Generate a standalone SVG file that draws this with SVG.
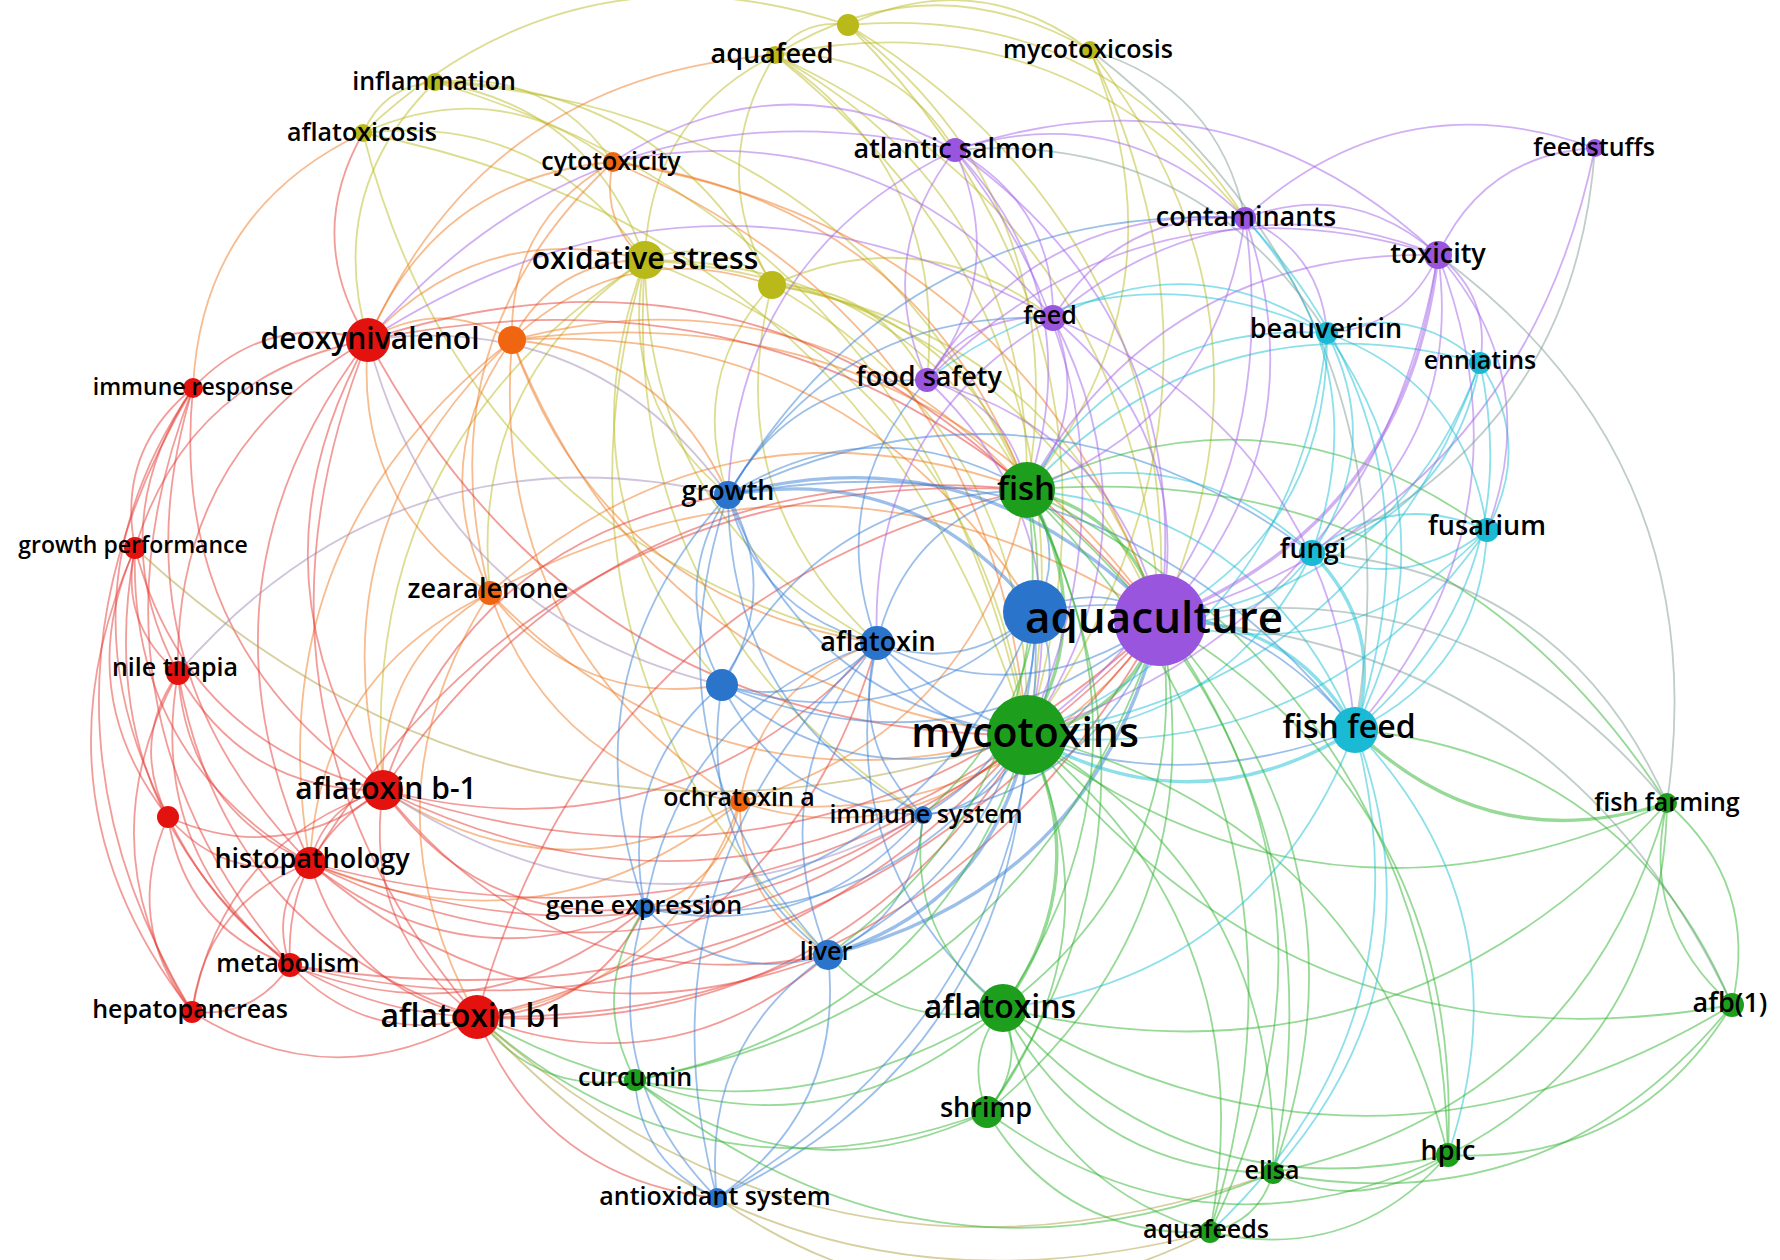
<svg xmlns="http://www.w3.org/2000/svg" width="1780" height="1260" viewBox="0 0 1780 1260">
<style>
#edges path{fill:none;stroke-width:1.8;stroke-opacity:.5;vector-effect:non-scaling-stroke}
#edges path.w{stroke-width:3.4}
.r{stroke:#e63a34}.g{stroke:#2fb42f}.b{stroke:#3a7fd6}.p{stroke:#a262e8}.c{stroke:#1cbfd6}.y{stroke:#bcbc26}.o{stroke:#f07a20}.k{stroke:#7f9c98}.l{stroke:#b0a040}.m{stroke:#a08ab8}
.node circle{stroke:none}
.cr{fill:#e3120f}.cg{fill:#1d9e1d}.cb{fill:#2a74cc}.cp{fill:#9a55de}.cc{fill:#1ab9d4}.cy{fill:#b9b91a}.co{fill:#f0650f}
text{font-family:"Open Sans","Noto Sans","DejaVu Sans",sans-serif;font-weight:600;fill:#000;text-anchor:middle}
.s24{font-size:23px}.s26{font-size:25px}.s28{font-size:27px}.s31{font-size:30px}.s33{font-size:32px}.s34{font-size:33px}.s42{font-size:41px}.s45{font-size:44px}
</style>
<rect width="1780" height="1260" fill="#fff"/>
<g id="edges">
<path class="y" transform="matrix(-73 30 -30 -73 848 25)" d="M0 0Q.5 .3 1 0"/>
<path class="y" transform="matrix(-242 -25 25 -242 1090 50)" d="M0 0Q.5 .3 1 0"/>
<path class="y" transform="matrix(-315 5 -5 -315 1090 50)" d="M0 0Q.5 .3 1 0"/>
<path class="y" transform="matrix(-485 108 -108 -485 848 25)" d="M0 0Q.5 .3 1 0"/>
<path class="y" transform="matrix(-72 51 -51 -72 435 82)" d="M0 0Q.5 .3 1 0"/>
<path class="y" transform="matrix(-210 -178 178 -210 645 260)" d="M0 0Q.5 .3 1 0"/>
<path class="y" transform="matrix(-178 -80 80 -178 613 162)" d="M0 0Q.5 .3 1 0"/>
<path class="y" transform="matrix(-250 -29 29 -250 613 162)" d="M0 0Q.5 .3 1 0"/>
<path class="y" transform="matrix(-282 -127 127 -282 645 260)" d="M0 0Q.5 .3 1 0"/>
<path class="y" transform="matrix(-130 205 -205 -130 775 55)" d="M0 0Q.5 .3 1 0"/>
<path class="y" transform="matrix(-127 -25 25 -127 772 285)" d="M0 0Q.5 .3 1 0"/>
<path class="y" transform="matrix(-3 230 -230 -3 775 55)" d="M0 0Q.5 .3 1 0"/>
<path class="y" transform="matrix(-252 -435 435 -252 1027 490)" d="M0 0Q.5 .3 1 0"/>
<path class="y" transform="matrix(-252 -680 680 -252 1027 735)" d="M0 0Q.5 .3 1 0"/>
<path class="y" transform="matrix(-385 -565 565 -385 1160 620)" d="M0 0Q.5 .3 1 0"/>
<path class="y" transform="matrix(-152 -325 325 -152 927 380)" d="M0 0Q.5 .3 1 0"/>
<path class="y" transform="matrix(-470 -163 163 -470 1245 218)" d="M0 0Q.5 .3 1 0"/>
<path class="y" transform="matrix(-179 -465 465 -179 1027 490)" d="M0 0Q.5 .3 1 0"/>
<path class="y" transform="matrix(-179 -710 710 -179 1027 735)" d="M0 0Q.5 .3 1 0"/>
<path class="y" transform="matrix(-312 -595 595 -312 1160 620)" d="M0 0Q.5 .3 1 0"/>
<path class="y" transform="matrix(63 -685 685 63 1027 735)" d="M0 0Q.5 .3 1 0"/>
<path class="y" transform="matrix(-70 -570 570 -70 1160 620)" d="M0 0Q.5 .3 1 0"/>
<path class="k" transform="matrix(-155 -168 168 -155 1245 218)" d="M0 0Q.5 .3 1 0"/>
<path class="y" transform="matrix(63 -440 440 63 1027 490)" d="M0 0Q.5 .3 1 0"/>
<path class="k" transform="matrix(-265 -680 680 -265 1355 730)" d="M0 0Q.5 .3 1 0"/>
<path class="y" transform="matrix(-592 -653 653 -592 1027 735)" d="M0 0Q.5 .3 1 0"/>
<path class="y" transform="matrix(-592 -408 408 -592 1027 490)" d="M0 0Q.5 .3 1 0"/>
<path class="y" transform="matrix(-337 -203 203 -337 772 285)" d="M0 0Q.5 .3 1 0"/>
<path class="y" transform="matrix(514 510 -510 514 363 133)" d="M0 0Q.5 .3 1 0"/>
<path class="o" transform="matrix(-170 255 -255 -170 363 133)" d="M0 0Q.5 .3 1 0"/>
<path class="y" transform="matrix(-664 -602 602 -664 1027 735)" d="M0 0Q.5 .3 1 0"/>
<path class="y" transform="matrix(83 235 -235 83 645 260)" d="M0 0Q.5 .3 1 0"/>
<path class="y" transform="matrix(-382 -230 230 -382 1027 490)" d="M0 0Q.5 .3 1 0"/>
<path class="y" transform="matrix(-382 -475 475 -382 1027 735)" d="M0 0Q.5 .3 1 0"/>
<path class="y" transform="matrix(-515 -360 360 -515 1160 620)" d="M0 0Q.5 .3 1 0"/>
<path class="y" transform="matrix(232 383 -383 232 645 260)" d="M0 0Q.5 .3 1 0"/>
<path class="y" transform="matrix(-262 530 -530 -262 645 260)" d="M0 0Q.5 .3 1 0"/>
<path class="y" transform="matrix(-155 333 -333 -155 645 260)" d="M0 0Q.5 .3 1 0"/>
<path class="y" transform="matrix(183 695 -695 183 645 260)" d="M0 0Q.5 .3 1 0"/>
<path class="y" transform="matrix(278 555 -555 278 645 260)" d="M0 0Q.5 .3 1 0"/>
<path class="y" transform="matrix(77 425 -425 77 645 260)" d="M0 0Q.5 .3 1 0"/>
<path class="o" transform="matrix(-133 80 -80 -133 645 260)" d="M0 0Q.5 .3 1 0"/>
<path class="o" transform="matrix(-277 80 -80 -277 645 260)" d="M0 0Q.5 .3 1 0"/>
<path class="y" transform="matrix(-255 -205 205 -255 1027 490)" d="M0 0Q.5 .3 1 0"/>
<path class="y" transform="matrix(-255 -450 450 -255 1027 735)" d="M0 0Q.5 .3 1 0"/>
<path class="y" transform="matrix(-388 -335 335 -388 1160 620)" d="M0 0Q.5 .3 1 0"/>
<path class="y" transform="matrix(-281 -33 33 -281 1053 318)" d="M0 0Q.5 .3 1 0"/>
<path class="y" transform="matrix(-44 210 -210 -44 772 285)" d="M0 0Q.5 .3 1 0"/>
<path class="y" transform="matrix(105 358 -358 105 772 285)" d="M0 0Q.5 .3 1 0"/>
<path class="y" transform="matrix(-155 -95 95 -155 927 380)" d="M0 0Q.5 .3 1 0"/>
<path class="y" transform="matrix(-180 -95 95 -180 955 150)" d="M0 0Q.5 .3 1 0"/>
<path class="y" transform="matrix(-397 -193 193 -397 1245 218)" d="M0 0Q.5 .3 1 0"/>
<path class="o" transform="matrix(32 98 -98 32 613 162)" d="M0 0Q.5 .3 1 0"/>
<path class="o" transform="matrix(-101 178 -178 -101 613 162)" d="M0 0Q.5 .3 1 0"/>
<path class="o" transform="matrix(-123 431 -431 -123 613 162)" d="M0 0Q.5 .3 1 0"/>
<path class="o" transform="matrix(-245 178 -178 -245 613 162)" d="M0 0Q.5 .3 1 0"/>
<path class="o" transform="matrix(-414 -573 573 -414 1027 735)" d="M0 0Q.5 .3 1 0"/>
<path class="o" transform="matrix(-414 -328 328 -414 1027 490)" d="M0 0Q.5 .3 1 0"/>
<path class="o" transform="matrix(-547 -458 458 -547 1160 620)" d="M0 0Q.5 .3 1 0"/>
<path class="p" transform="matrix(-440 -156 156 -440 1053 318)" d="M0 0Q.5 .3 1 0"/>
<path class="p" transform="matrix(-342 12 -12 -342 955 150)" d="M0 0Q.5 .3 1 0"/>
<path class="o" transform="matrix(-144 0 0 -144 512 340)" d="M0 0Q.5 .3 1 0"/>
<path class="o" transform="matrix(-22 253 -253 -22 512 340)" d="M0 0Q.5 .3 1 0"/>
<path class="o" transform="matrix(-129 450 -450 -129 512 340)" d="M0 0Q.5 .3 1 0"/>
<path class="o" transform="matrix(-202 523 -523 -202 512 340)" d="M0 0Q.5 .3 1 0"/>
<path class="o" transform="matrix(515 395 -395 515 512 340)" d="M0 0Q.5 .3 1 0"/>
<path class="o" transform="matrix(-515 -150 150 -515 1027 490)" d="M0 0Q.5 .3 1 0"/>
<path class="o" transform="matrix(-648 -280 280 -648 1160 620)" d="M0 0Q.5 .3 1 0"/>
<path class="o" transform="matrix(365 303 -303 365 512 340)" d="M0 0Q.5 .3 1 0"/>
<path class="o" transform="matrix(-216 -155 155 -216 728 495)" d="M0 0Q.5 .3 1 0"/>
<path class="o" transform="matrix(228 462 -462 228 512 340)" d="M0 0Q.5 .3 1 0"/>
<path class="o" transform="matrix(-260 55 -55 -260 772 285)" d="M0 0Q.5 .3 1 0"/>
<path class="o" transform="matrix(-523 -272 272 -523 1035 612)" d="M0 0Q.5 .3 1 0"/>
<path class="o" transform="matrix(122 253 -253 122 368 340)" d="M0 0Q.5 .3 1 0"/>
<path class="o" transform="matrix(-107 197 -197 -107 490 593)" d="M0 0Q.5 .3 1 0"/>
<path class="o" transform="matrix(250 209 -209 250 490 593)" d="M0 0Q.5 .3 1 0"/>
<path class="o" transform="matrix(537 142 -142 537 490 593)" d="M0 0Q.5 .3 1 0"/>
<path class="o" transform="matrix(-670 -27 27 -670 1160 620)" d="M0 0Q.5 .3 1 0"/>
<path class="o" transform="matrix(-537 103 -103 -537 1027 490)" d="M0 0Q.5 .3 1 0"/>
<path class="o" transform="matrix(232 92 -92 232 490 593)" d="M0 0Q.5 .3 1 0"/>
<path class="o" transform="matrix(-180 270 -270 -180 490 593)" d="M0 0Q.5 .3 1 0"/>
<path class="o" transform="matrix(287 -67 67 287 740 802)" d="M0 0Q.5 .3 1 0"/>
<path class="o" transform="matrix(420 -182 182 420 740 802)" d="M0 0Q.5 .3 1 0"/>
<path class="o" transform="matrix(263 -215 215 263 477 1017)" d="M0 0Q.5 .3 1 0"/>
<path class="o" transform="matrix(-137 159 -159 -137 877 643)" d="M0 0Q.5 .3 1 0"/>
<path class="o" transform="matrix(88 153 -153 88 740 802)" d="M0 0Q.5 .3 1 0"/>
<path class="o" transform="matrix(95 -106 106 95 645 908)" d="M0 0Q.5 .3 1 0"/>
<path class="o" transform="matrix(430 -61 61 430 310 863)" d="M0 0Q.5 .3 1 0"/>
<path class="o" transform="matrix(357 12 -12 357 383 790)" d="M0 0Q.5 .3 1 0"/>
<path class="o" transform="matrix(287 -312 312 287 740 802)" d="M0 0Q.5 .3 1 0"/>
<path class="r" transform="matrix(-175 48 -48 -175 368 340)" d="M0 0Q.5 .3 1 0"/>
<path class="r" transform="matrix(-233 208 -208 -233 368 340)" d="M0 0Q.5 .3 1 0"/>
<path class="r" transform="matrix(-190 333 -333 -190 368 340)" d="M0 0Q.5 .3 1 0"/>
<path class="r" transform="matrix(15 450 -450 15 368 340)" d="M0 0Q.5 .3 1 0"/>
<path class="r" transform="matrix(-58 523 -523 -58 368 340)" d="M0 0Q.5 .3 1 0"/>
<path class="r" transform="matrix(659 395 -395 659 368 340)" d="M0 0Q.5 .3 1 0"/>
<path class="r" transform="matrix(-792 -280 280 -792 1160 620)" d="M0 0Q.5 .3 1 0"/>
<path class="r" transform="matrix(-659 -150 150 -659 1027 490)" d="M0 0Q.5 .3 1 0"/>
<path class="y" transform="matrix(-67 258 -258 -67 435 82)" d="M0 0Q.5 .3 1 0"/>
<path class="r" transform="matrix(5 207 -207 5 363 133)" d="M0 0Q.5 .3 1 0"/>
<path class="o" transform="matrix(-407 285 -285 -407 775 55)" d="M0 0Q.5 .3 1 0"/>
<path class="p" transform="matrix(-587 190 -190 -587 955 150)" d="M0 0Q.5 .3 1 0"/>
<path class="p" transform="matrix(-685 22 -22 -685 1053 318)" d="M0 0Q.5 .3 1 0"/>
<path class="m" transform="matrix(-360 -155 155 -360 728 495)" d="M0 0Q.5 .3 1 0"/>
<path class="r" transform="matrix(-58 160 -160 -58 193 388)" d="M0 0Q.5 .3 1 0"/>
<path class="r" transform="matrix(-15 285 -285 -15 193 388)" d="M0 0Q.5 .3 1 0"/>
<path class="r" transform="matrix(-25 429 -429 -25 193 388)" d="M0 0Q.5 .3 1 0"/>
<path class="r" transform="matrix(117 475 -475 117 193 388)" d="M0 0Q.5 .3 1 0"/>
<path class="r" transform="matrix(-1 624 -624 -1 193 388)" d="M0 0Q.5 .3 1 0"/>
<path class="r" transform="matrix(97 577 -577 97 193 388)" d="M0 0Q.5 .3 1 0"/>
<path class="r" transform="matrix(190 402 -402 190 193 388)" d="M0 0Q.5 .3 1 0"/>
<path class="r" transform="matrix(43 125 -125 43 135 548)" d="M0 0Q.5 .3 1 0"/>
<path class="r" transform="matrix(33 269 -269 33 135 548)" d="M0 0Q.5 .3 1 0"/>
<path class="r" transform="matrix(175 315 -315 175 135 548)" d="M0 0Q.5 .3 1 0"/>
<path class="r" transform="matrix(248 242 -242 248 135 548)" d="M0 0Q.5 .3 1 0"/>
<path class="r" transform="matrix(57 464 -464 57 135 548)" d="M0 0Q.5 .3 1 0"/>
<path class="r" transform="matrix(155 417 -417 155 135 548)" d="M0 0Q.5 .3 1 0"/>
<path class="l" transform="matrix(892 187 -187 892 135 548)" d="M0 0Q.5 .3 1 0"/>
<path class="r" transform="matrix(-10 144 -144 -10 178 673)" d="M0 0Q.5 .3 1 0"/>
<path class="r" transform="matrix(205 117 -117 205 178 673)" d="M0 0Q.5 .3 1 0"/>
<path class="r" transform="matrix(132 190 -190 132 178 673)" d="M0 0Q.5 .3 1 0"/>
<path class="r" transform="matrix(14 339 -339 14 178 673)" d="M0 0Q.5 .3 1 0"/>
<path class="r" transform="matrix(112 292 -292 112 178 673)" d="M0 0Q.5 .3 1 0"/>
<path class="r" transform="matrix(299 344 -344 299 178 673)" d="M0 0Q.5 .3 1 0"/>
<path class="m" transform="matrix(-550 178 -178 -550 728 495)" d="M0 0Q.5 .3 1 0"/>
<path class="r" transform="matrix(142 46 -46 142 168 817)" d="M0 0Q.5 .3 1 0"/>
<path class="r" transform="matrix(122 148 -148 122 168 817)" d="M0 0Q.5 .3 1 0"/>
<path class="r" transform="matrix(24 195 -195 24 168 817)" d="M0 0Q.5 .3 1 0"/>
<path class="r" transform="matrix(215 -27 27 215 168 817)" d="M0 0Q.5 .3 1 0"/>
<path class="r" transform="matrix(309 200 -200 309 168 817)" d="M0 0Q.5 .3 1 0"/>
<path class="r" transform="matrix(-73 73 -73 -73 383 790)" d="M0 0Q.5 .3 1 0"/>
<path class="r" transform="matrix(-93 175 -175 -93 383 790)" d="M0 0Q.5 .3 1 0"/>
<path class="r" transform="matrix(94 227 -227 94 383 790)" d="M0 0Q.5 .3 1 0"/>
<path class="r" transform="matrix(-191 222 -222 -191 383 790)" d="M0 0Q.5 .3 1 0"/>
<path class="r" transform="matrix(644 -55 55 644 383 790)" d="M0 0Q.5 .3 1 0"/>
<path class="r" transform="matrix(777 -170 170 777 383 790)" d="M0 0Q.5 .3 1 0"/>
<path class="r" transform="matrix(-644 300 -300 -644 1027 490)" d="M0 0Q.5 .3 1 0"/>
<path class="r" transform="matrix(494 -147 147 494 383 790)" d="M0 0Q.5 .3 1 0"/>
<path class="r" transform="matrix(262 118 -118 262 383 790)" d="M0 0Q.5 .3 1 0"/>
<path class="r" transform="matrix(445 165 -165 445 383 790)" d="M0 0Q.5 .3 1 0"/>
<path class="m" transform="matrix(540 25 -25 540 383 790)" d="M0 0Q.5 .3 1 0"/>
<path class="r" transform="matrix(-345 295 -295 -345 728 495)" d="M0 0Q.5 .3 1 0"/>
<path class="r" transform="matrix(-20 102 -102 -20 310 863)" d="M0 0Q.5 .3 1 0"/>
<path class="r" transform="matrix(-118 149 -149 -118 310 863)" d="M0 0Q.5 .3 1 0"/>
<path class="r" transform="matrix(167 154 -154 167 310 863)" d="M0 0Q.5 .3 1 0"/>
<path class="r" transform="matrix(335 45 -45 335 310 863)" d="M0 0Q.5 .3 1 0"/>
<path class="r" transform="matrix(717 -128 128 717 310 863)" d="M0 0Q.5 .3 1 0"/>
<path class="r" transform="matrix(850 -243 243 850 310 863)" d="M0 0Q.5 .3 1 0"/>
<path class="r" transform="matrix(518 92 -92 518 310 863)" d="M0 0Q.5 .3 1 0"/>
<path class="r" transform="matrix(613 -48 48 613 310 863)" d="M0 0Q.5 .3 1 0"/>
<path class="r" transform="matrix(-717 373 -373 -717 1027 490)" d="M0 0Q.5 .3 1 0"/>
<path class="r" transform="matrix(98 -47 47 98 192 1012)" d="M0 0Q.5 .3 1 0"/>
<path class="r" transform="matrix(187 52 -52 187 290 965)" d="M0 0Q.5 .3 1 0"/>
<path class="r" transform="matrix(737 -230 230 737 290 965)" d="M0 0Q.5 .3 1 0"/>
<path class="r" transform="matrix(870 -345 345 870 290 965)" d="M0 0Q.5 .3 1 0"/>
<path class="r" transform="matrix(355 -57 57 355 290 965)" d="M0 0Q.5 .3 1 0"/>
<path class="r" transform="matrix(285 5 -5 285 192 1012)" d="M0 0Q.5 .3 1 0"/>
<path class="r" transform="matrix(550 -282 282 550 477 1017)" d="M0 0Q.5 .3 1 0"/>
<path class="r" transform="matrix(683 -397 397 683 477 1017)" d="M0 0Q.5 .3 1 0"/>
<path class="r" transform="matrix(400 -374 374 400 477 1017)" d="M0 0Q.5 .3 1 0"/>
<path class="r" transform="matrix(168 -109 109 168 477 1017)" d="M0 0Q.5 .3 1 0"/>
<path class="g" transform="matrix(158 63 -63 158 477 1017)" d="M0 0Q.5 .3 1 0"/>
<path class="r" transform="matrix(240 181 -181 240 477 1017)" d="M0 0Q.5 .3 1 0"/>
<path class="l" transform="matrix(733 215 -215 733 477 1017)" d="M0 0Q.5 .3 1 0"/>
<path class="g" transform="matrix(510 95 -95 510 477 1017)" d="M0 0Q.5 .3 1 0"/>
<path class="r" transform="matrix(-550 527 -527 -550 1027 490)" d="M0 0Q.5 .3 1 0"/>
<path class="r" transform="matrix(351 -62 62 351 477 1017)" d="M0 0Q.5 .3 1 0"/>
<path class="r" transform="matrix(109 677 -677 109 368 340)" d="M0 0Q.5 .3 1 0"/>
<path class="o" transform="matrix(-13 424 -424 -13 490 593)" d="M0 0Q.5 .3 1 0"/>
<path class="l" transform="matrix(796 156 -156 796 477 1017)" d="M0 0Q.5 .3 1 0"/>
<path class="g" transform="matrix(526 -9 9 526 477 1017)" d="M0 0Q.5 .3 1 0"/>
<path class="b" transform="matrix(-299 5 -5 -299 1027 490)" d="M0 0Q.5 .3 1 0"/>
<path class="b w" transform="matrix(-432 -125 125 -432 1160 620)" d="M0 0Q.5 .3 1 0"/>
<path class="b w" transform="matrix(-307 -117 117 -307 1035 612)" d="M0 0Q.5 .3 1 0"/>
<path class="b" transform="matrix(299 240 -240 299 728 495)" d="M0 0Q.5 .3 1 0"/>
<path class="b" transform="matrix(149 148 -148 149 728 495)" d="M0 0Q.5 .3 1 0"/>
<path class="b" transform="matrix(-6 190 -190 -6 728 495)" d="M0 0Q.5 .3 1 0"/>
<path class="b" transform="matrix(6 -190 190 6 722 685)" d="M0 0Q.5 .3 1 0"/>
<path class="b" transform="matrix(-83 413 -413 -83 728 495)" d="M0 0Q.5 .3 1 0"/>
<path class="b" transform="matrix(100 460 -460 100 728 495)" d="M0 0Q.5 .3 1 0"/>
<path class="b" transform="matrix(195 320 -320 195 728 495)" d="M0 0Q.5 .3 1 0"/>
<path class="b" transform="matrix(-199 115 -115 -199 927 380)" d="M0 0Q.5 .3 1 0"/>
<path class="b" transform="matrix(-325 177 -177 -325 1053 318)" d="M0 0Q.5 .3 1 0"/>
<path class="b" transform="matrix(-627 -235 235 -627 1355 730)" d="M0 0Q.5 .3 1 0"/>
<path class="b" transform="matrix(-584 -58 58 -584 1312 553)" d="M0 0Q.5 .3 1 0"/>
<path class="b" transform="matrix(-517 277 -277 -517 1245 218)" d="M0 0Q.5 .3 1 0"/>
<path class="b" transform="matrix(155 -42 42 155 722 685)" d="M0 0Q.5 .3 1 0"/>
<path class="b" transform="matrix(305 50 -50 305 722 685)" d="M0 0Q.5 .3 1 0"/>
<path class="b" transform="matrix(438 -65 65 438 722 685)" d="M0 0Q.5 .3 1 0"/>
<path class="b" transform="matrix(313 -73 73 313 722 685)" d="M0 0Q.5 .3 1 0"/>
<path class="b" transform="matrix(-305 195 -195 -305 1027 490)" d="M0 0Q.5 .3 1 0"/>
<path class="b" transform="matrix(201 130 -130 201 722 685)" d="M0 0Q.5 .3 1 0"/>
<path class="b" transform="matrix(106 270 -270 106 722 685)" d="M0 0Q.5 .3 1 0"/>
<path class="b" transform="matrix(-77 223 -223 -77 722 685)" d="M0 0Q.5 .3 1 0"/>
<path class="m" transform="matrix(354 345 -345 354 368 340)" d="M0 0Q.5 .3 1 0"/>
<path class="b" transform="matrix(150 92 -92 150 877 643)" d="M0 0Q.5 .3 1 0"/>
<path class="b" transform="matrix(283 -23 23 283 877 643)" d="M0 0Q.5 .3 1 0"/>
<path class="b" transform="matrix(158 -31 31 158 877 643)" d="M0 0Q.5 .3 1 0"/>
<path class="b" transform="matrix(-150 153 -153 -150 1027 490)" d="M0 0Q.5 .3 1 0"/>
<path class="b" transform="matrix(46 172 -172 46 877 643)" d="M0 0Q.5 .3 1 0"/>
<path class="b" transform="matrix(-49 312 -312 -49 877 643)" d="M0 0Q.5 .3 1 0"/>
<path class="b" transform="matrix(-232 265 -265 -232 877 643)" d="M0 0Q.5 .3 1 0"/>
<path class="b" transform="matrix(126 365 -365 126 877 643)" d="M0 0Q.5 .3 1 0"/>
<path class="b" transform="matrix(478 87 -87 478 877 643)" d="M0 0Q.5 .3 1 0"/>
<path class="b" transform="matrix(-8 -122 122 -8 1035 612)" d="M0 0Q.5 .3 1 0"/>
<path class="b" transform="matrix(8 -123 123 8 1027 735)" d="M0 0Q.5 .3 1 0"/>
<path class="b" transform="matrix(-125 -8 8 -125 1160 620)" d="M0 0Q.5 .3 1 0"/>
<path class="b" transform="matrix(207 -343 343 207 828 955)" d="M0 0Q.5 .3 1 0"/>
<path class="b" transform="matrix(112 -203 203 112 923 815)" d="M0 0Q.5 .3 1 0"/>
<path class="b" transform="matrix(390 -296 296 390 645 908)" d="M0 0Q.5 .3 1 0"/>
<path class="b" transform="matrix(318 -586 586 318 717 1198)" d="M0 0Q.5 .3 1 0"/>
<path class="b" transform="matrix(-320 -118 118 -320 1355 730)" d="M0 0Q.5 .3 1 0"/>
<path class="b" transform="matrix(104 -80 80 104 923 815)" d="M0 0Q.5 .3 1 0"/>
<path class="b" transform="matrix(95 -140 140 95 828 955)" d="M0 0Q.5 .3 1 0"/>
<path class="b" transform="matrix(278 -93 93 278 645 908)" d="M0 0Q.5 .3 1 0"/>
<path class="b" transform="matrix(237 -195 195 237 923 815)" d="M0 0Q.5 .3 1 0"/>
<path class="b" transform="matrix(183 47 -47 183 645 908)" d="M0 0Q.5 .3 1 0"/>
<path class="g" transform="matrix(-10 172 -172 -10 645 908)" d="M0 0Q.5 .3 1 0"/>
<path class="b" transform="matrix(382 -173 173 382 645 908)" d="M0 0Q.5 .3 1 0"/>
<path class="b" transform="matrix(72 290 -290 72 645 908)" d="M0 0Q.5 .3 1 0"/>
<path class="b w" transform="matrix(199 -220 220 199 828 955)" d="M0 0Q.5 .3 1 0"/>
<path class="b w" transform="matrix(332 -335 335 332 828 955)" d="M0 0Q.5 .3 1 0"/>
<path class="b" transform="matrix(111 -243 243 111 717 1198)" d="M0 0Q.5 .3 1 0"/>
<path class="b" transform="matrix(-111 243 -243 -111 828 955)" d="M0 0Q.5 .3 1 0"/>
<path class="g" transform="matrix(175 53 -53 175 828 955)" d="M0 0Q.5 .3 1 0"/>
<path class="b" transform="matrix(82 118 -118 82 635 1080)" d="M0 0Q.5 .3 1 0"/>
<path class="b" transform="matrix(310 -463 463 310 717 1198)" d="M0 0Q.5 .3 1 0"/>
<path class="b" transform="matrix(-160 555 -555 -160 877 643)" d="M0 0Q.5 .3 1 0"/>
<path class="g w" transform="matrix(0 -245 245 0 1027 735)" d="M0 0Q.5 .3 1 0"/>
<path class="g w" transform="matrix(-133 -130 130 -133 1160 620)" d="M0 0Q.5 .3 1 0"/>
<path class="c" transform="matrix(-328 -240 240 -328 1355 730)" d="M0 0Q.5 .3 1 0"/>
<path class="c" transform="matrix(-285 -63 63 -285 1312 553)" d="M0 0Q.5 .3 1 0"/>
<path class="g" transform="matrix(-460 -40 40 -460 1487 530)" d="M0 0Q.5 .3 1 0"/>
<path class="g" transform="matrix(24 -518 518 24 1003 1008)" d="M0 0Q.5 .3 1 0"/>
<path class="p" transform="matrix(26 -172 172 26 1027 490)" d="M0 0Q.5 .3 1 0"/>
<path class="p" transform="matrix(-100 -110 110 -100 1027 490)" d="M0 0Q.5 .3 1 0"/>
<path class="p" transform="matrix(-72 -340 340 -72 1027 490)" d="M0 0Q.5 .3 1 0"/>
<path class="p" transform="matrix(218 -272 272 218 1027 490)" d="M0 0Q.5 .3 1 0"/>
<path class="p" transform="matrix(-411 235 -235 -411 1438 255)" d="M0 0Q.5 .3 1 0"/>
<path class="c" transform="matrix(-300 157 -157 -300 1327 333)" d="M0 0Q.5 .3 1 0"/>
<path class="c" transform="matrix(-453 127 -127 -453 1480 363)" d="M0 0Q.5 .3 1 0"/>
<path class="g" transform="matrix(-640 -313 313 -640 1667 803)" d="M0 0Q.5 .3 1 0"/>
<path class="g" transform="matrix(40 -622 622 40 987 1112)" d="M0 0Q.5 .3 1 0"/>
<path class="g" transform="matrix(-246 -683 683 -246 1273 1173)" d="M0 0Q.5 .3 1 0"/>
<path class="g" transform="matrix(-421 -665 665 -421 1448 1155)" d="M0 0Q.5 .3 1 0"/>
<path class="g" transform="matrix(104 -325 325 104 923 815)" d="M0 0Q.5 .3 1 0"/>
<path class="g" transform="matrix(199 -465 465 199 828 955)" d="M0 0Q.5 .3 1 0"/>
<path class="g" transform="matrix(-183 -742 742 -183 1210 1232)" d="M0 0Q.5 .3 1 0"/>
<path class="g w" transform="matrix(133 -115 115 133 1027 735)" d="M0 0Q.5 .3 1 0"/>
<path class="c w" transform="matrix(328 -5 5 328 1027 735)" d="M0 0Q.5 .3 1 0"/>
<path class="g w" transform="matrix(24 -273 273 24 1003 1008)" d="M0 0Q.5 .3 1 0"/>
<path class="g" transform="matrix(40 -377 377 40 987 1112)" d="M0 0Q.5 .3 1 0"/>
<path class="g" transform="matrix(-246 -438 438 -246 1273 1173)" d="M0 0Q.5 .3 1 0"/>
<path class="g" transform="matrix(-421 -420 420 -421 1448 1155)" d="M0 0Q.5 .3 1 0"/>
<path class="g" transform="matrix(-183 -497 497 -183 1210 1232)" d="M0 0Q.5 .3 1 0"/>
<path class="g" transform="matrix(705 270 -270 705 1027 735)" d="M0 0Q.5 .3 1 0"/>
<path class="g" transform="matrix(640 68 -68 640 1027 735)" d="M0 0Q.5 .3 1 0"/>
<path class="c" transform="matrix(285 -182 182 285 1027 735)" d="M0 0Q.5 .3 1 0"/>
<path class="c" transform="matrix(460 -205 205 460 1027 735)" d="M0 0Q.5 .3 1 0"/>
<path class="c" transform="matrix(300 -402 402 300 1027 735)" d="M0 0Q.5 .3 1 0"/>
<path class="c" transform="matrix(453 -372 372 453 1027 735)" d="M0 0Q.5 .3 1 0"/>
<path class="p" transform="matrix(411 -480 480 411 1027 735)" d="M0 0Q.5 .3 1 0"/>
<path class="p" transform="matrix(218 -517 517 218 1027 735)" d="M0 0Q.5 .3 1 0"/>
<path class="p" transform="matrix(26 -417 417 26 1027 735)" d="M0 0Q.5 .3 1 0"/>
<path class="p" transform="matrix(-100 -355 355 -100 1027 735)" d="M0 0Q.5 .3 1 0"/>
<path class="p" transform="matrix(-72 -585 585 -72 1027 735)" d="M0 0Q.5 .3 1 0"/>
<path class="g" transform="matrix(392 -345 345 392 635 1080)" d="M0 0Q.5 .3 1 0"/>
<path class="c w" transform="matrix(-195 -110 110 -195 1355 730)" d="M0 0Q.5 .3 1 0"/>
<path class="c" transform="matrix(152 -67 67 152 1160 620)" d="M0 0Q.5 .3 1 0"/>
<path class="c" transform="matrix(327 -90 90 327 1160 620)" d="M0 0Q.5 .3 1 0"/>
<path class="c" transform="matrix(167 -287 287 167 1160 620)" d="M0 0Q.5 .3 1 0"/>
<path class="c" transform="matrix(320 -257 257 320 1160 620)" d="M0 0Q.5 .3 1 0"/>
<path class="p w" transform="matrix(278 -365 365 278 1160 620)" d="M0 0Q.5 .3 1 0"/>
<path class="p" transform="matrix(85 -402 402 85 1160 620)" d="M0 0Q.5 .3 1 0"/>
<path class="p" transform="matrix(-107 -302 302 -107 1160 620)" d="M0 0Q.5 .3 1 0"/>
<path class="p" transform="matrix(-233 -240 240 -233 1160 620)" d="M0 0Q.5 .3 1 0"/>
<path class="p" transform="matrix(-205 -470 470 -205 1160 620)" d="M0 0Q.5 .3 1 0"/>
<path class="p" transform="matrix(435 -472 472 435 1160 620)" d="M0 0Q.5 .3 1 0"/>
<path class="k" transform="matrix(-507 -183 183 -507 1667 803)" d="M0 0Q.5 .3 1 0"/>
<path class="k" transform="matrix(-572 -385 385 -572 1732 1005)" d="M0 0Q.5 .3 1 0"/>
<path class="g" transform="matrix(-288 -535 535 -288 1448 1155)" d="M0 0Q.5 .3 1 0"/>
<path class="g" transform="matrix(-113 -553 553 -113 1273 1173)" d="M0 0Q.5 .3 1 0"/>
<path class="g" transform="matrix(-50 -612 612 -50 1210 1232)" d="M0 0Q.5 .3 1 0"/>
<path class="g" transform="matrix(157 -388 388 157 1003 1008)" d="M0 0Q.5 .3 1 0"/>
<path class="g" transform="matrix(173 -492 492 173 987 1112)" d="M0 0Q.5 .3 1 0"/>
<path class="g" transform="matrix(525 -460 460 525 635 1080)" d="M0 0Q.5 .3 1 0"/>
<path class="c w" transform="matrix(-43 -177 177 -43 1355 730)" d="M0 0Q.5 .3 1 0"/>
<path class="c" transform="matrix(132 -200 200 132 1355 730)" d="M0 0Q.5 .3 1 0"/>
<path class="c" transform="matrix(-28 -397 397 -28 1355 730)" d="M0 0Q.5 .3 1 0"/>
<path class="c" transform="matrix(125 -367 367 125 1355 730)" d="M0 0Q.5 .3 1 0"/>
<path class="p" transform="matrix(83 -475 475 83 1355 730)" d="M0 0Q.5 .3 1 0"/>
<path class="g w" transform="matrix(312 73 -73 312 1355 730)" d="M0 0Q.5 .3 1 0"/>
<path class="c" transform="matrix(-93 -425 425 -93 1448 1155)" d="M0 0Q.5 .3 1 0"/>
<path class="c" transform="matrix(82 -443 443 82 1273 1173)" d="M0 0Q.5 .3 1 0"/>
<path class="c" transform="matrix(352 -278 278 352 1003 1008)" d="M0 0Q.5 .3 1 0"/>
<path class="c" transform="matrix(145 -502 502 145 1210 1232)" d="M0 0Q.5 .3 1 0"/>
<path class="g" transform="matrix(-377 -275 275 -377 1732 1005)" d="M0 0Q.5 .3 1 0"/>
<path class="c" transform="matrix(-175 23 -23 -175 1487 530)" d="M0 0Q.5 .3 1 0"/>
<path class="c" transform="matrix(175 -23 23 175 1312 553)" d="M0 0Q.5 .3 1 0"/>
<path class="c" transform="matrix(15 -220 220 15 1312 553)" d="M0 0Q.5 .3 1 0"/>
<path class="c" transform="matrix(168 -190 190 168 1312 553)" d="M0 0Q.5 .3 1 0"/>
<path class="p" transform="matrix(126 -298 298 126 1312 553)" d="M0 0Q.5 .3 1 0"/>
<path class="c" transform="matrix(-67 -335 335 -67 1312 553)" d="M0 0Q.5 .3 1 0"/>
<path class="k" transform="matrix(-355 -250 250 -355 1667 803)" d="M0 0Q.5 .3 1 0"/>
<path class="c" transform="matrix(-160 -197 197 -160 1487 530)" d="M0 0Q.5 .3 1 0"/>
<path class="c" transform="matrix(-7 -167 167 -7 1487 530)" d="M0 0Q.5 .3 1 0"/>
<path class="p" transform="matrix(-49 -275 275 -49 1487 530)" d="M0 0Q.5 .3 1 0"/>
<path class="c" transform="matrix(-153 -30 30 -153 1480 363)" d="M0 0Q.5 .3 1 0"/>
<path class="p" transform="matrix(111 -78 78 111 1327 333)" d="M0 0Q.5 .3 1 0"/>
<path class="p" transform="matrix(-82 -115 115 -82 1327 333)" d="M0 0Q.5 .3 1 0"/>
<path class="c" transform="matrix(-274 -15 15 -274 1327 333)" d="M0 0Q.5 .3 1 0"/>
<path class="c" transform="matrix(-400 47 -47 -400 1327 333)" d="M0 0Q.5 .3 1 0"/>
<path class="k" transform="matrix(-372 -183 183 -372 1327 333)" d="M0 0Q.5 .3 1 0"/>
<path class="p" transform="matrix(-42 -108 108 -42 1480 363)" d="M0 0Q.5 .3 1 0"/>
<path class="p" transform="matrix(-157 107 -107 -157 1595 148)" d="M0 0Q.5 .3 1 0"/>
<path class="p" transform="matrix(-350 70 -70 -350 1595 148)" d="M0 0Q.5 .3 1 0"/>
<path class="k" transform="matrix(283 -405 405 283 1312 553)" d="M0 0Q.5 .3 1 0"/>
<path class="p" transform="matrix(-193 -37 37 -193 1438 255)" d="M0 0Q.5 .3 1 0"/>
<path class="p" transform="matrix(-385 63 -63 -385 1438 255)" d="M0 0Q.5 .3 1 0"/>
<path class="p" transform="matrix(-511 125 -125 -511 1438 255)" d="M0 0Q.5 .3 1 0"/>
<path class="k" transform="matrix(-229 -548 548 -229 1667 803)" d="M0 0Q.5 .3 1 0"/>
<path class="p" transform="matrix(-483 -105 105 -483 1438 255)" d="M0 0Q.5 .3 1 0"/>
<path class="p" transform="matrix(-192 100 -100 -192 1245 218)" d="M0 0Q.5 .3 1 0"/>
<path class="p" transform="matrix(-318 162 -162 -318 1245 218)" d="M0 0Q.5 .3 1 0"/>
<path class="p" transform="matrix(-290 -68 68 -290 1245 218)" d="M0 0Q.5 .3 1 0"/>
<path class="c" transform="matrix(-110 -512 512 -110 1355 730)" d="M0 0Q.5 .3 1 0"/>
<path class="p" transform="matrix(-126 62 -62 -126 1053 318)" d="M0 0Q.5 .3 1 0"/>
<path class="p" transform="matrix(-98 -168 168 -98 1053 318)" d="M0 0Q.5 .3 1 0"/>
<path class="p" transform="matrix(-302 -412 412 -302 1355 730)" d="M0 0Q.5 .3 1 0"/>
<path class="p" transform="matrix(-28 230 -230 -28 955 150)" d="M0 0Q.5 .3 1 0"/>
<path class="p" transform="matrix(28 -230 230 28 927 380)" d="M0 0Q.5 .3 1 0"/>
<path class="b" transform="matrix(-50 263 -263 -50 927 380)" d="M0 0Q.5 .3 1 0"/>
<path class="p" transform="matrix(-227 345 -345 -227 955 150)" d="M0 0Q.5 .3 1 0"/>
<path class="p" transform="matrix(-176 325 -325 -176 1053 318)" d="M0 0Q.5 .3 1 0"/>
<path class="g" transform="matrix(16 -104 104 16 987 1112)" d="M0 0Q.5 .3 1 0"/>
<path class="g" transform="matrix(-16 104 -104 -16 1003 1008)" d="M0 0Q.5 .3 1 0"/>
<path class="g" transform="matrix(270 165 -165 270 1003 1008)" d="M0 0Q.5 .3 1 0"/>
<path class="g" transform="matrix(445 147 -147 445 1003 1008)" d="M0 0Q.5 .3 1 0"/>
<path class="g" transform="matrix(207 224 -224 207 1003 1008)" d="M0 0Q.5 .3 1 0"/>
<path class="g" transform="matrix(729 -3 3 729 1003 1008)" d="M0 0Q.5 .3 1 0"/>
<path class="g" transform="matrix(664 -205 205 664 1003 1008)" d="M0 0Q.5 .3 1 0"/>
<path class="g" transform="matrix(368 -72 72 368 635 1080)" d="M0 0Q.5 .3 1 0"/>
<path class="g" transform="matrix(223 120 -120 223 987 1112)" d="M0 0Q.5 .3 1 0"/>
<path class="g" transform="matrix(461 43 -43 461 987 1112)" d="M0 0Q.5 .3 1 0"/>
<path class="g" transform="matrix(352 32 -32 352 635 1080)" d="M0 0Q.5 .3 1 0"/>
<path class="g" transform="matrix(175 -18 18 175 1273 1173)" d="M0 0Q.5 .3 1 0"/>
<path class="g" transform="matrix(63 -59 59 63 1210 1232)" d="M0 0Q.5 .3 1 0"/>
<path class="g" transform="matrix(459 -168 168 459 1273 1173)" d="M0 0Q.5 .3 1 0"/>
<path class="g" transform="matrix(394 -370 370 394 1273 1173)" d="M0 0Q.5 .3 1 0"/>
<path class="g" transform="matrix(238 -77 77 238 1210 1232)" d="M0 0Q.5 .3 1 0"/>
<path class="g" transform="matrix(284 -150 150 284 1448 1155)" d="M0 0Q.5 .3 1 0"/>
<path class="g" transform="matrix(219 -352 352 219 1448 1155)" d="M0 0Q.5 .3 1 0"/>
<path class="g" transform="matrix(-65 -202 202 -65 1732 1005)" d="M0 0Q.5 .3 1 0"/>
<path class="g" transform="matrix(65 202 -202 65 1667 803)" d="M0 0Q.5 .3 1 0"/>
<path class="g" transform="matrix(638 93 -93 638 635 1080)" d="M0 0Q.5 .3 1 0"/>
<path class="l" transform="matrix(493 34 -34 493 717 1198)" d="M0 0Q.5 .3 1 0"/>
<path class="g" transform="matrix(80 193 -193 80 923 815)" d="M0 0Q.5 .3 1 0"/>
</g>
<g id="nodes">
<g id="n-aquafeed" class="node"><circle class="cy" cx="775" cy="55" r="9"/><text class="s28" x="772" y="55" dy=".3em">aquafeed</text></g>
<g id="n-yellow-top" class="node"><circle class="cy" cx="848" cy="25" r="11"/></g>
<g id="n-mycotoxicosis" class="node"><circle class="cy" cx="1090" cy="50" r="9"/><text class="s26" x="1088" y="50" dy=".3em">mycotoxicosis</text></g>
<g id="n-inflammation" class="node"><circle class="cy" cx="435" cy="82" r="9"/><text class="s26" x="434" y="82" dy=".3em">inflammation</text></g>
<g id="n-aflatoxicosis" class="node"><circle class="cy" cx="363" cy="133" r="9"/><text class="s26" x="362" y="133" dy=".3em">aflatoxicosis</text></g>
<g id="n-cytotoxicity" class="node"><circle class="co" cx="613" cy="162" r="10"/><text class="s26" x="611" y="162" dy=".3em">cytotoxicity</text></g>
<g id="n-atlantic-salmon" class="node"><circle class="cp" cx="955" cy="150" r="12"/><text class="s28" x="954" y="150" dy=".3em">atlantic salmon</text></g>
<g id="n-feedstuffs" class="node"><circle class="cp" cx="1595" cy="148" r="9"/><text class="s26" x="1594" y="148" dy=".3em">feedstuffs</text></g>
<g id="n-contaminants" class="node"><circle class="cp" cx="1245" cy="218" r="11"/><text class="s28" x="1246" y="218" dy=".3em">contaminants</text></g>
<g id="n-toxicity" class="node"><circle class="cp" cx="1438" cy="255" r="14"/><text class="s28" x="1438" y="255" dy=".3em">toxicity</text></g>
<g id="n-oxidative-stress" class="node"><circle class="cy" cx="645" cy="260" r="19"/><text class="s31" x="645" y="260" dy=".3em">oxidative stress</text></g>
<g id="n-yellow-2" class="node"><circle class="cy" cx="772" cy="285" r="14"/></g>
<g id="n-feed" class="node"><circle class="cp" cx="1053" cy="318" r="13"/><text class="s26" x="1050" y="316" dy=".3em">feed</text></g>
<g id="n-deoxynivalenol" class="node"><circle class="cr" cx="368" cy="340" r="22"/><text class="s31" x="370" y="340" dy=".3em">deoxynivalenol</text></g>
<g id="n-orange-2" class="node"><circle class="co" cx="512" cy="340" r="14"/></g>
<g id="n-beauvericin" class="node"><circle class="cc" cx="1327" cy="333" r="11"/><text class="s28" x="1326" y="330" dy=".3em">beauvericin</text></g>
<g id="n-enniatins" class="node"><circle class="cc" cx="1480" cy="363" r="11"/><text class="s26" x="1480" y="361" dy=".3em">enniatins</text></g>
<g id="n-food-safety" class="node"><circle class="cp" cx="927" cy="380" r="12"/><text class="s28" x="929" y="378" dy=".3em">food safety</text></g>
<g id="n-immune-response" class="node"><circle class="cr" cx="193" cy="388" r="10"/><text class="s24" x="193" y="388" dy=".3em">immune response</text></g>
<g id="n-growth" class="node"><circle class="cb" cx="728" cy="495" r="14"/><text class="s28" x="728" y="492" dy=".3em">growth</text></g>
<g id="n-fish" class="node"><circle class="cg" cx="1027" cy="490" r="28"/><text class="s34" x="1026" y="490" dy=".3em">fish</text></g>
<g id="n-growth-performance" class="node"><circle class="cr" cx="135" cy="548" r="11"/><text class="s24" x="133" y="546" dy=".3em">growth performance</text></g>
<g id="n-fusarium" class="node"><circle class="cc" cx="1487" cy="530" r="12"/><text class="s28" x="1487" y="527" dy=".3em">fusarium</text></g>
<g id="n-fungi" class="node"><circle class="cc" cx="1312" cy="553" r="13"/><text class="s28" x="1313" y="550" dy=".3em">fungi</text></g>
<g id="n-zearalenone" class="node"><circle class="co" cx="490" cy="593" r="12"/><text class="s28" x="488" y="590" dy=".3em">zearalenone</text></g>
<g id="n-aquaculture-blue" class="node"><circle class="cb" cx="1035" cy="612" r="32"/></g>
<g id="n-aquaculture" class="node"><circle class="cp" cx="1160" cy="620" r="46"/><text class="s45" x="1154" y="620" dy=".3em">aquaculture</text></g>
<g id="n-aflatoxin" class="node"><circle class="cb" cx="877" cy="643" r="17"/><text class="s28" x="878" y="643" dy=".3em">aflatoxin</text></g>
<g id="n-nile-tilapia" class="node"><circle class="cr" cx="178" cy="673" r="12"/><text class="s26" x="175" y="668" dy=".3em">nile tilapia</text></g>
<g id="n-blue-3" class="node"><circle class="cb" cx="722" cy="685" r="16"/></g>
<g id="n-mycotoxins" class="node"><circle class="cg" cx="1027" cy="735" r="40"/><text class="s42" x="1025" y="735" dy=".3em">mycotoxins</text></g>
<g id="n-fish-feed" class="node"><circle class="cc" cx="1355" cy="730" r="23"/><text class="s33" x="1349" y="728" dy=".3em">fish feed</text></g>
<g id="n-aflatoxin-b-1" class="node"><circle class="cr" cx="383" cy="790" r="20"/><text class="s31" x="386" y="790" dy=".3em">aflatoxin b-1</text></g>
<g id="n-ochratoxin-a" class="node"><circle class="co" cx="740" cy="802" r="10"/><text class="s26" x="739" y="798" dy=".3em">ochratoxin a</text></g>
<g id="n-immune-system" class="node"><circle class="cb" cx="923" cy="815" r="9"/><text class="s26" x="926" y="815" dy=".3em">immune system</text></g>
<g id="n-fish-farming" class="node"><circle class="cg" cx="1667" cy="803" r="10"/><text class="s26" x="1667" y="803" dy=".3em">fish farming</text></g>
<g id="n-red-unlabelled" class="node"><circle class="cr" cx="168" cy="817" r="11"/></g>
<g id="n-histopathology" class="node"><circle class="cr" cx="310" cy="863" r="16"/><text class="s28" x="312" y="860" dy=".3em">histopathology</text></g>
<g id="n-gene-expression" class="node"><circle class="cb" cx="645" cy="908" r="10"/><text class="s26" x="644" y="906" dy=".3em">gene expression</text></g>
<g id="n-liver" class="node"><circle class="cb" cx="828" cy="955" r="15"/><text class="s26" x="826" y="952" dy=".3em">liver</text></g>
<g id="n-metabolism" class="node"><circle class="cr" cx="290" cy="965" r="12"/><text class="s26" x="288" y="964" dy=".3em">metabolism</text></g>
<g id="n-hepatopancreas" class="node"><circle class="cr" cx="192" cy="1012" r="11"/><text class="s26" x="190" y="1010" dy=".3em">hepatopancreas</text></g>
<g id="n-aflatoxin-b1" class="node"><circle class="cr" cx="477" cy="1017" r="22"/><text class="s33" x="472" y="1017" dy=".3em">aflatoxin b1</text></g>
<g id="n-aflatoxins" class="node"><circle class="cg" cx="1003" cy="1008" r="24"/><text class="s33" x="1000" y="1008" dy=".3em">aflatoxins</text></g>
<g id="n-afb1" class="node"><circle class="cg" cx="1732" cy="1005" r="12"/><text class="s28" x="1730" y="1004" dy=".3em">afb(1)</text></g>
<g id="n-curcumin" class="node"><circle class="cg" cx="635" cy="1080" r="11"/><text class="s26" x="635" y="1078" dy=".3em">curcumin</text></g>
<g id="n-shrimp" class="node"><circle class="cg" cx="987" cy="1112" r="16"/><text class="s28" x="986" y="1109" dy=".3em">shrimp</text></g>
<g id="n-hplc" class="node"><circle class="cg" cx="1448" cy="1155" r="12"/><text class="s28" x="1448" y="1152" dy=".3em">hplc</text></g>
<g id="n-elisa" class="node"><circle class="cg" cx="1273" cy="1173" r="11"/><text class="s26" x="1272" y="1171" dy=".3em">elisa</text></g>
<g id="n-antioxidant-system" class="node"><circle class="cb" cx="717" cy="1198" r="10"/><text class="s26" x="715" y="1197" dy=".3em">antioxidant system</text></g>
<g id="n-aquafeeds" class="node"><circle class="cg" cx="1210" cy="1232" r="11"/><text class="s26" x="1206" y="1230" dy=".3em">aquafeeds</text></g>
</g>
</svg>
